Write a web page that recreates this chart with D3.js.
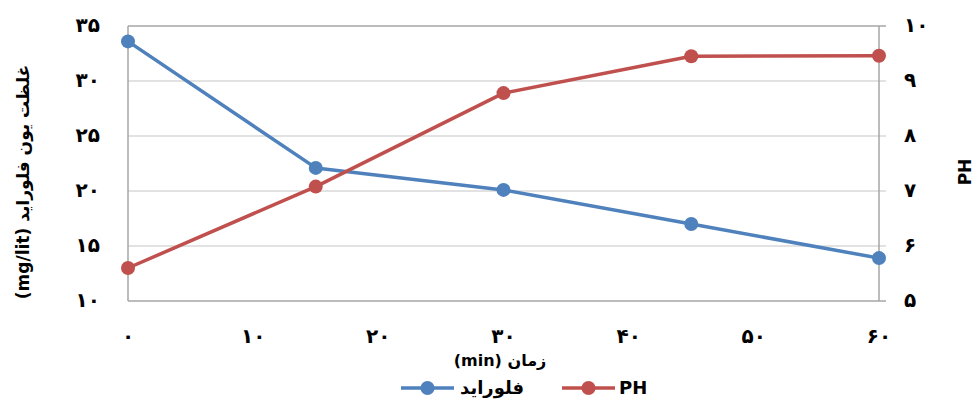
<!DOCTYPE html>
<html><head><meta charset="utf-8">
<script src="https://cdn.jsdelivr.net/npm/d3@7"></script>
<style>
html,body{margin:0;padding:0;background:#fff;}
svg{display:block;}
text{font-family:"DejaVu Sans","Liberation Sans",sans-serif;}
</style></head>
<body>
<svg id="chart" width="974" height="403"></svg>
<script>
const times = [0, 15, 30, 45, 60];
const fluoride = [33.6, 22.1, 20.1, 17.0, 13.9];
const ph = [5.6, 7.08, 8.78, 9.45, 9.46];
const xTicks = [0, 10, 20, 30, 40, 50, 60];
const leftTicks = [10, 15, 20, 25, 30, 35];
const rightTicks = [5, 6, 7, 8, 9, 10];
const seriesNames = ["فلوراید", "PH"];
const xTitle = "زمان (min)";
const leftTitle = "غلظت یون فلوراید (mg/lit)";
const rightTitle = "PH";

const fa = n => String(n).replace(/\d/g, d => "۰۱۲۳۴۵۶۷۸۹"[d]);

const svg = d3.select("#chart");
const L = 128, R = 879, T = 26, B = 301;
const x = d3.scaleLinear().domain([0, 60]).range([L, R]);
const yL = d3.scaleLinear().domain([10, 35]).range([B, T]);
const yR = d3.scaleLinear().domain([5, 10]).range([B, T]);
const blue = "#4F81BD", red = "#C0504D";

// gridlines
svg.append("g").selectAll("line").data(leftTicks).join("line")
  .attr("x1", L).attr("x2", R + 7)
  .attr("y1", d => yL(d)).attr("y2", d => yL(d))
  .attr("stroke", d => (d === 10 || d === 35) ? "#A6A6A6" : "#D9D9D9")
  .attr("stroke-width", 1.5);

// axis lines
svg.append("line").attr("x1", L).attr("x2", L).attr("y1", T).attr("y2", B)
  .attr("stroke", "#A6A6A6").attr("stroke-width", 1.5);
svg.append("line").attr("x1", R).attr("x2", R).attr("y1", T).attr("y2", B)
  .attr("stroke", "#A6A6A6").attr("stroke-width", 1.5);

// tick labels
const TS = 20;
svg.append("g").selectAll("text").data(leftTicks).join("text")
  .attr("x", 100).attr("y", d => yL(d)).attr("dy", "0.3em")
  .attr("text-anchor", "end").attr("font-weight", "bold").attr("font-size", TS)
  .text(d => fa(d));
svg.append("g").selectAll("text").data(rightTicks).join("text")
  .attr("x", 904).attr("y", d => yR(d)).attr("dy", "0.3em")
  .attr("text-anchor", "start").attr("font-weight", "bold").attr("font-size", TS)
  .text(d => fa(d));
svg.append("g").selectAll("text").data(xTicks).join("text")
  .attr("x", d => x(d)).attr("y", 337).attr("dy", "0.3em")
  .attr("text-anchor", "middle").attr("font-weight", "bold").attr("font-size", TS)
  .text(d => fa(d));

// titles
svg.append("text").attr("x", 500).attr("y", 360).attr("dy", "0.35em")
  .attr("text-anchor", "middle").attr("font-weight", "bold").attr("font-size", 16)
  .attr("direction", "rtl").text(xTitle);
svg.append("text").attr("transform", "translate(23,182) rotate(-90)")
  .attr("dy", "0.35em").attr("text-anchor", "middle")
  .attr("font-weight", "bold").attr("font-size", 17)
  .attr("direction", "rtl").text(leftTitle);
svg.append("text").attr("transform", "translate(965,172) rotate(-90)")
  .attr("dy", "0.35em").attr("text-anchor", "middle")
  .attr("font-weight", "bold").attr("font-size", 17).text(rightTitle);

// series
const series = [
  { vals: fluoride, y: yL, color: blue },
  { vals: ph, y: yR, color: red }
];
series.forEach(s => {
  const line = d3.line().x((d, i) => x(times[i])).y(d => s.y(d));
  svg.append("path").datum(s.vals).attr("d", line)
    .attr("fill", "none").attr("stroke", s.color).attr("stroke-width", 3.5)
    .attr("stroke-linejoin", "round");
  svg.append("g").selectAll("circle").data(s.vals).join("circle")
    .attr("cx", (d, i) => x(times[i])).attr("cy", d => s.y(d))
    .attr("r", 7).attr("fill", s.color);
});

// legend
const legY = 388;
const leg = [
  { x1: 401, x2: 454, name: seriesNames[0], tx: 460, color: blue },
  { x1: 562, x2: 615, name: seriesNames[1], tx: 619, color: red }
];
leg.forEach(l => {
  svg.append("line").attr("x1", l.x1).attr("x2", l.x2).attr("y1", legY).attr("y2", legY)
    .attr("stroke", l.color).attr("stroke-width", 3.5);
  svg.append("circle").attr("cx", (l.x1 + l.x2) / 2).attr("cy", legY).attr("r", 7).attr("fill", l.color);
  svg.append("text").attr("x", l.tx).attr("y", legY).attr("dy", "0.35em")
    .attr("font-weight", "bold").attr("font-size", 18).text(l.name);
});
</script>
</body></html>
